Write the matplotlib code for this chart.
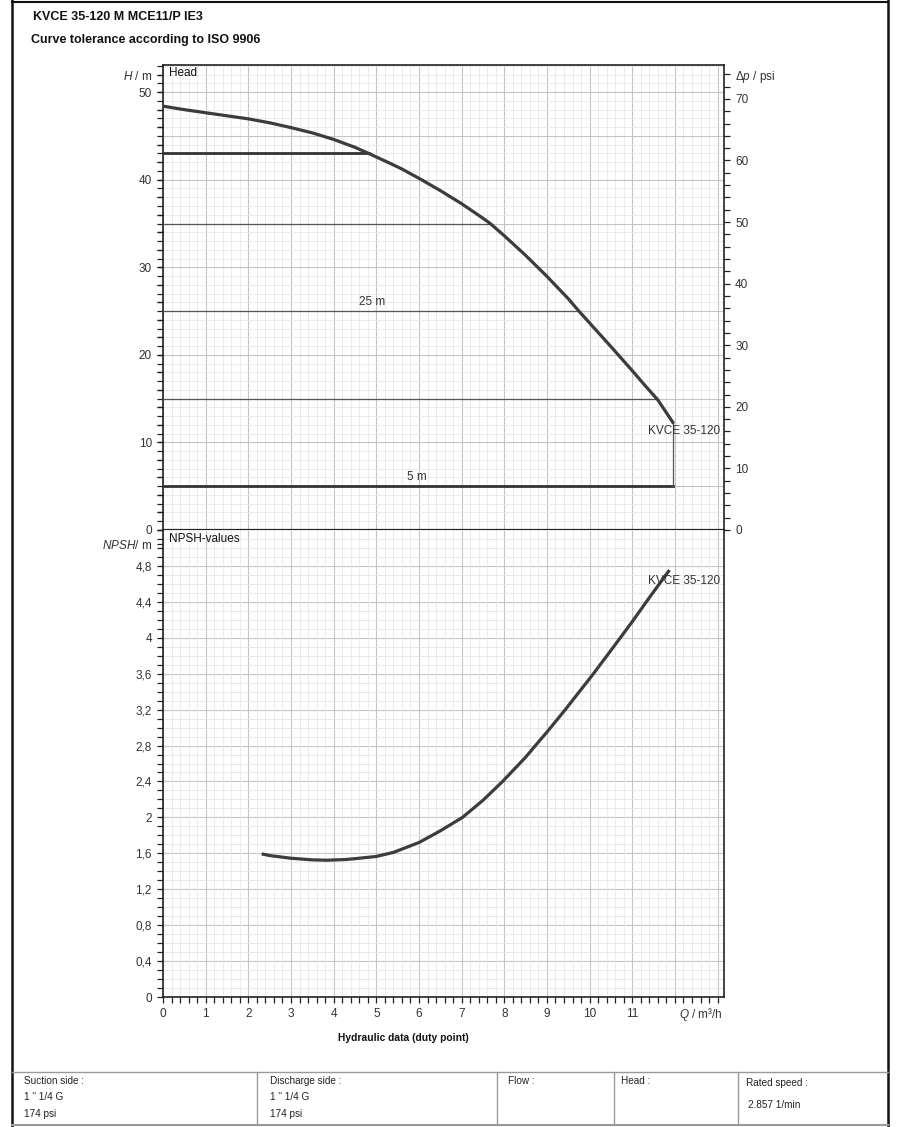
import matplotlib
matplotlib.use('Agg')
import matplotlib.pyplot as plt
import numpy as np
from matplotlib.lines import Line2D
from matplotlib.ticker import MultipleLocator, FixedLocator

plt.rcParams['font.family'] = ['Liberation Sans', 'DejaVu Sans']
plt.rcParams['mathtext.fontset'] = 'custom'
plt.rcParams['mathtext.rm'] = 'Liberation Sans'
plt.rcParams['mathtext.it'] = 'Liberation Sans:italic'
plt.rcParams['axes.unicode_minus'] = False

# Kennlinie Förderhöhe (Q in m³/h, H in m)
head_q = [0, 0.5, 1, 1.5, 2, 2.5, 3, 3.5, 4, 4.5, 4.82, 5.2, 5.57, 6, 6.5, 7, 7.5, 7.67,
          8, 8.5, 9, 9.5, 9.73, 10, 10.5, 11, 11.3, 11.6, 11.95]
head_h = [48.4, 48.0, 47.65, 47.3, 46.95, 46.5, 45.95, 45.35, 44.6, 43.7, 43.0, 42.15, 41.3,
          40.16, 38.76, 37.26, 35.6, 35.0, 33.6, 31.36, 28.96, 26.41, 25.1, 23.64, 20.94, 18.19,
          16.49, 14.85, 12.3]

# Toleranzlinien
tol_levels = [43, 35, 25, 15, 5]
tol_q_end = [4.82, 7.67, 9.75, 11.58, 11.95]
tol_thick = [True, False, False, False, True]
tol_labels = {25: '25 m', 5: '5 m'}
q_max = 11.95
h_end = 12.3

# NPSH-Kurve
npsh_q = [2.35, 2.5, 3.0, 3.5, 3.85, 4.25, 4.5, 5.0, 5.4, 6.0, 6.5, 7.02, 7.5, 7.96,
          8.5, 8.73, 9.0, 9.43, 10.09, 10.5, 10.72, 11.0, 11.42, 11.85]
npsh_v = [1.59, 1.575, 1.545, 1.527, 1.523, 1.53, 1.54, 1.565, 1.61, 1.72, 1.85, 2.0, 2.19, 2.4,
          2.67, 2.8, 2.95, 3.2, 3.6, 3.86, 4.0, 4.18, 4.46, 4.74]

model = 'KVCE 35-120'
psi_per_m = 1.4219

x_labels = ['0', '1', '2', '3', '4', '5', '6', '7', '8', '9', '10', '11', '', '']
h_ticks = [0, 10, 20, 30, 40, 50]
psi_ticks = [0, 10, 20, 30, 40, 50, 60, 70]
npsh_ticks = [0, 0.4, 0.8, 1.2, 1.6, 2, 2.4, 2.8, 3.2, 3.6, 4, 4.4, 4.8]

curve_col = '#3b3b40'
txt_col = '#333333'
W, H = 900, 1127

fig = plt.figure(figsize=(9, 11.27), dpi=100)

def fx(px):
    return px / W

def fy(py):
    return 1 - py / H

left, right = 163, 724
ax = fig.add_axes([fx(left), fy(530), fx(right - left), (530 - 65) / H])
axn = fig.add_axes([fx(left), fy(997), fx(right - left), (997 - 530) / H])

tick_kw = dict(direction='out', length=4.5, width=0.9, colors='#222222',
               labelsize=8.5, labelcolor=txt_col)

for a in (ax, axn):
    a.set_xlim(0, 13.15)
    a.xaxis.set_major_locator(MultipleLocator(1))
    a.xaxis.set_minor_locator(MultipleLocator(0.2))
    a.grid(which='major', color='#c4c4c4', linewidth=0.8)
    a.grid(which='minor', color='#e8e8e8', linewidth=0.6)
    a.set_axisbelow(True)
    for s in a.spines.values():
        s.set_color('#222222')
        s.set_linewidth(1.2)
    a.tick_params(which='both', **tick_kw)

# --- Förderhöhe oben ---
ax.set_ylim(0, 53.1)
ax.yaxis.set_major_locator(MultipleLocator(5))
ax.yaxis.set_minor_locator(MultipleLocator(1))
ax.tick_params(axis='x', which='both', bottom=False, labelbottom=False)
ax.tick_params(axis='y', which='both', left=False, labelleft=False)
ax.spines['bottom'].set_linewidth(1.6)

# linke Ticks auf eigener Achse, damit die Grid-Einteilung erhalten bleibt
axl = ax.twinx()
axl.set_ylim(ax.get_ylim())
axl.yaxis.tick_left()
axl.yaxis.set_major_locator(FixedLocator(h_ticks + [52]))
axl.set_yticklabels([str(t) for t in h_ticks] + [r'$H$ / m'])
axl.yaxis.set_minor_locator(FixedLocator(np.arange(0, 53, 2)))
axl.tick_params(which='both', right=False, **tick_kw)
for s in axl.spines.values():
    s.set_visible(False)

axp = ax.twinx()
axp.set_ylim(0, 53.1 * psi_per_m)
axp.yaxis.set_major_locator(FixedLocator(psi_ticks + [74]))
axp.set_yticklabels([str(t) for t in psi_ticks] + ['Δ$p$ / psi'])
axp.yaxis.set_minor_locator(FixedLocator(np.arange(0, 76, 2)))
axp.tick_params(which='both', **tick_kw)
for s in axp.spines.values():
    s.set_visible(False)

ax.plot(head_q, head_h, color=curve_col, linewidth=2.3, solid_joinstyle='round', zorder=5)
for lev, qe, thick in zip(tol_levels, tol_q_end, tol_thick):
    ax.plot([0, qe], [lev, lev], color='#333333' if thick else '#555555',
            linewidth=2.0 if thick else 0.9, zorder=4)
ax.plot([q_max, q_max], [tol_levels[-1], h_end], color='#555555', linewidth=0.9, zorder=4)
ax.text(4.9, 25.4, tol_labels[25], fontsize=8.5, color=txt_col, ha='center', va='bottom')
ax.text(5.95, 5.4, tol_labels[5], fontsize=8.5, color=txt_col, ha='center', va='bottom')
ax.text(13.05, 11.3, model, fontsize=8.5, color=txt_col, ha='right', va='center', zorder=6)
ax.text(0.15, 52.9, 'Head', fontsize=8.5, color='#111111', ha='left', va='top')

# --- NPSH unten ---
axn.set_ylim(0, 5.2)
axn.yaxis.set_major_locator(FixedLocator(npsh_ticks + [5.04]))
axn.set_yticklabels(['0'] + [f'{t:g}'.replace('.', ',') for t in npsh_ticks[1:]] + [r'$NPSH$/ m'])
axn.yaxis.set_minor_locator(MultipleLocator(0.1))
axn.set_xticks(np.arange(0, 14))
axn.set_xticklabels(x_labels)
axn.spines['top'].set_visible(False)
axn.yaxis.grid(False)
for v in np.arange(0.1, 5.2, 0.1):
    major = abs(v / 0.4 - round(v / 0.4)) < 1e-6
    axn.axhline(v, color='#c4c4c4' if major else '#e8e8e8',
                linewidth=0.8 if major else 0.6, zorder=0.5)
axn.plot(npsh_q, npsh_v, color=curve_col, linewidth=2.3, solid_joinstyle='round', zorder=5)
axn.text(13.05, 4.63, model, fontsize=8.5, color=txt_col, ha='right', va='center', zorder=6)
axn.text(0.15, 5.17, 'NPSH-values', fontsize=8.5, color='#111111', ha='left', va='top')
axn.text(13.12, -0.2, '$Q$ / m³/h', fontsize=8.5, color=txt_col, ha='right', va='center',
         clip_on=False)
fig.text(fx(403), fy(1038), 'Hydraulic data (duty point)', fontsize=7.4, fontweight='bold',
         color='#111111', ha='center', va='center')

# --- Kopf ---
fig.text(fx(33), fy(17), 'KVCE 35-120 M MCE11/P IE3', fontsize=9, fontweight='bold',
         color='#111111', ha='left', va='center')
fig.text(fx(31), fy(40), 'Curve tolerance according to ISO 9906', fontsize=9,
         fontweight='bold', color='#111111', ha='left', va='center')

# --- Rahmen ---
fig.add_artist(Line2D([fx(12), fx(12)], [0, 1], color='#111111', linewidth=1.8))
fig.add_artist(Line2D([fx(888), fx(888)], [0, 1], color='#111111', linewidth=1.8))
fig.add_artist(Line2D([fx(12), fx(888)], [fy(1.5), fy(1.5)], color='#111111', linewidth=1.5))

# --- Tabelle ---
tab_top = 1072
fig.add_artist(Line2D([fx(12), fx(888)], [fy(tab_top), fy(tab_top)], color='#9a9a9a', linewidth=1.0))
fig.add_artist(Line2D([fx(12), fx(888)], [fy(1125), fy(1125)], color='#9a9a9a', linewidth=1.5))
for sx in [257, 497, 614, 738]:
    fig.add_artist(Line2D([fx(sx), fx(sx)], [fy(tab_top), fy(1125)], color='#9a9a9a', linewidth=1.0))

cells = [
    (24, ['Suction side :', '1 " 1/4 G', '174 psi']),
    (270, ['Discharge side :', '1 " 1/4 G', '174 psi']),
    (508, ['Flow :']),
    (621, ['Head :']),
]
for cx, lines in cells:
    for i, t in enumerate(lines):
        fig.text(fx(cx), fy(1081 + i * 16.5), t, fontsize=7.2, color='#222222', ha='left', va='center')
fig.text(fx(746), fy(1083), 'Rated speed :', fontsize=7.2, color='#222222', ha='left', va='center')
fig.text(fx(748), fy(1105), '2.857 1/min', fontsize=7.2, color='#222222', ha='left', va='center')

fig.savefig('out.png', dpi=100)
